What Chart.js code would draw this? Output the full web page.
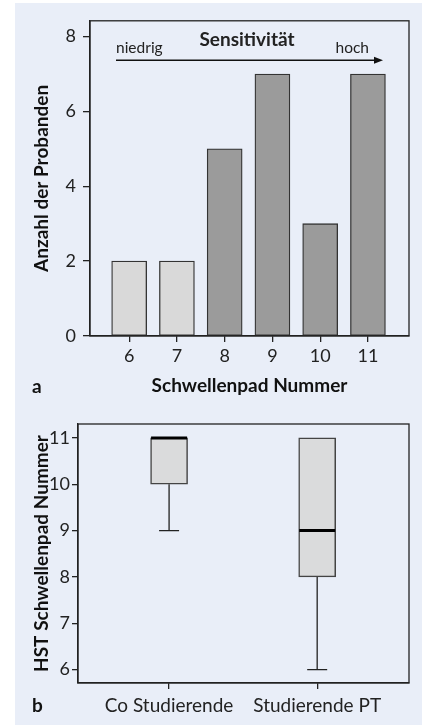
<!DOCTYPE html>
<html lang="de">
<head>
  <meta charset="UTF-8" />
  <title>Schwellenpad Sensitivität</title>
  <script src="https://cdn.jsdelivr.net/npm/chart.js"></script>
  <style>
    body { margin: 0; background: #fff; }
    #panel { position: absolute; left: 15px; top: 3px; width: 407px; height: 722px; background: #e9eef8; }
    canvas { position: absolute; left: 15px; }
    #chartA { top: 3px; }
    #chartB { top: 400px; }
  </style>
</head>
<body>
<div id="panel"></div>
<canvas id="chartA" width="407" height="397"></canvas>
<canvas id="chartB" width="407" height="325"></canvas>

<script>
  // a: Anzahl der Probanden je Schwellenpad
  const padNumbers = [6, 7, 8, 9, 10, 11];
  const probandCounts = [2, 2, 5, 7, 3, 7];
  const countTicks = [0, 2, 4, 6, 8];

  // b: HST Schwellenpad je Gruppe (Boxplot)
  const groups = ['Co Studierende', 'Studierende PT'];
  const groupPos = [1, 2];
  const boxMin = [9, 6];
  const boxQ1 = [10, 8];
  const boxMedian = [11, 9];
  const boxQ3 = [11, 11];
  const boxMax = [11, 11];
  const padTicks = [6, 7, 8, 9, 10, 11];

  const ink = '#222';
  const tickFont = { family: 'Lato', size: 18 };
  const titleFont = { family: 'Lato', size: 19, weight: 'bold' };

  // frame around the plot area
  const frame = {
    id: 'frame',
    afterDraw(chart) {
      const { ctx, chartArea: a } = chart;
      ctx.save();
      ctx.strokeStyle = ink;
      ctx.lineWidth = 1.3;
      ctx.strokeRect(a.left, a.top, a.right - a.left, a.bottom - a.top);
      ctx.restore();
    }
  };

  function panelLabel(text, x, y) {
    return {
      id: 'label' + text,
      afterDraw(chart) {
        const ctx = chart.ctx;
        ctx.save();
        ctx.fillStyle = '#111';
        ctx.font = 'bold 19px Lato';
        ctx.textBaseline = 'alphabetic';
        ctx.fillText(text, x, y);
        ctx.restore();
      }
    };
  }

  // Sensitivität arrow: niedrig -> hoch
  const sensArrow = {
    id: 'sensArrow',
    afterDraw(chart) {
      const { ctx, chartArea: a } = chart;
      const y = a.top + 39.5;
      const x0 = a.left + 26, x1 = a.left + 293;
      ctx.save();
      ctx.strokeStyle = '#111';
      ctx.fillStyle = '#111';
      ctx.lineWidth = 1.5;
      ctx.beginPath();
      ctx.moveTo(x0, y);
      ctx.lineTo(x1 - 6, y);
      ctx.stroke();
      ctx.beginPath();
      ctx.moveTo(x1, y);
      ctx.lineTo(x1 - 9, y - 3.5);
      ctx.lineTo(x1 - 9, y + 3.5);
      ctx.closePath();
      ctx.fill();

      ctx.fillStyle = ink;
      ctx.textBaseline = 'alphabetic';
      ctx.font = 'bold 19px Lato';
      ctx.textAlign = 'center';
      ctx.fillText('Sensitivität', a.left + 157, a.top + 25);
      ctx.font = '15.5px Lato';
      ctx.textAlign = 'left';
      ctx.fillText('niedrig', x0, a.top + 32);
      ctx.textAlign = 'right';
      ctx.fillText('hoch', a.left + 279, a.top + 32);
      ctx.restore();
    }
  };

  // whiskers and medians on top of the floating box bars
  const whiskers = {
    id: 'whiskers',
    afterDatasetsDraw(chart) {
      const { ctx, scales: { x, y } } = chart;
      ctx.save();
      groupPos.forEach((p, i) => {
        const cx = x.getPixelForValue(p);
        const cap = 10;
        ctx.strokeStyle = ink;
        ctx.lineWidth = 1.3;
        if (boxMin[i] < boxQ1[i]) {
          const yq = y.getPixelForValue(boxQ1[i]), ym = y.getPixelForValue(boxMin[i]);
          ctx.beginPath();
          ctx.moveTo(cx, yq); ctx.lineTo(cx, ym);
          ctx.moveTo(cx - cap, ym); ctx.lineTo(cx + cap, ym);
          ctx.stroke();
        }
        if (boxMax[i] > boxQ3[i]) {
          const yq = y.getPixelForValue(boxQ3[i]), ym = y.getPixelForValue(boxMax[i]);
          ctx.beginPath();
          ctx.moveTo(cx, yq); ctx.lineTo(cx, ym);
          ctx.moveTo(cx - cap, ym); ctx.lineTo(cx + cap, ym);
          ctx.stroke();
        }
        const ymed = y.getPixelForValue(boxMedian[i]);
        ctx.strokeStyle = '#000';
        ctx.lineWidth = 3;
        ctx.beginPath();
        ctx.moveTo(cx - 18, ymed); ctx.lineTo(cx + 18, ymed);
        ctx.stroke();
      });
      ctx.restore();
    }
  };

  const tickGrid = (len) => ({ drawOnChartArea: false, drawTicks: true, tickLength: len, color: ink, lineWidth: 1.3 });

  new Chart(document.getElementById('chartA'), {
    type: 'bar',
    data: {
      datasets: [{
        data: padNumbers.map((p, i) => ({ x: p, y: probandCounts[i] })),
        backgroundColor: ctx => ctx.dataIndex < 2 ? '#d9d9d9' : '#9b9b9b',
        borderColor: '#333',
        borderWidth: 1.3,
        borderSkipped: false,
        barThickness: 35
      }]
    },
    options: {
      responsive: false,
      animation: false,
      layout: { padding: { top: 15, right: 13, left: 0, bottom: 0 } },
      plugins: { legend: { display: false }, tooltip: { enabled: false } },
      scales: {
        x: {
          type: 'linear',
          min: 5.18, max: 11.86,
          offset: false,
          afterBuildTicks: s => { s.ticks = padNumbers.map(v => ({ value: v })); },
          afterFit: s => { s.height = 64; },
          grid: { ...tickGrid(6), offset: false },
          border: { color: ink, width: 1.3 },
          ticks: { font: tickFont, color: ink, padding: 3, maxRotation: 0 },
          title: { display: true, text: 'Schwellenpad Nummer', font: titleFont, color: '#111', padding: { top: 0, bottom: 2.6 } }
        },
        y: {
          min: 0, max: 8.42,
          afterBuildTicks: s => { s.ticks = countTicks.map(v => ({ value: v })); },
          afterFit: s => { s.width = 75; },
          grid: tickGrid(7),
          border: { color: ink, width: 1.3 },
          ticks: { font: tickFont, color: ink, padding: 7 },
          title: { display: true, text: 'Anzahl der Probanden', font: titleFont, color: '#111', padding: { top: 15.6, bottom: 0 } }
        }
      }
    },
    plugins: [frame, sensArrow, panelLabel('a', 17, 390)]
  });

  new Chart(document.getElementById('chartB'), {
    type: 'bar',
    data: {
      datasets: [{
        data: groupPos.map((p, i) => ({ x: p, y: [boxQ1[i], boxQ3[i]] })),
        backgroundColor: '#dadbdc',
        borderColor: '#444',
        borderWidth: 1.5,
        borderSkipped: false,
        barThickness: 37
      }]
    },
    options: {
      responsive: false,
      animation: false,
      layout: { padding: { top: 24, right: 13, left: 0, bottom: 0 } },
      plugins: { legend: { display: false }, tooltip: { enabled: false } },
      scales: {
        x: {
          type: 'linear',
          min: 0.385, max: 2.62,
          offset: false,
          afterBuildTicks: s => { s.ticks = groupPos.map(v => ({ value: v })); },
          afterFit: s => { s.height = 42; },
          grid: { ...tickGrid(6), offset: false },
          border: { color: ink, width: 1.3 },
          ticks: {
            font: { family: 'Lato', size: 19 }, color: ink, padding: 5, maxRotation: 0,
            callback: v => groups[groupPos.indexOf(v)]
          }
        },
        y: {
          min: 5.71, max: 11.3,
          afterBuildTicks: s => { s.ticks = padTicks.map(v => ({ value: v })); },
          afterFit: s => { s.width = 63; },
          grid: tickGrid(6),
          border: { color: ink, width: 1.3 },
          ticks: { font: tickFont, color: ink, padding: 2 },
          title: { display: true, text: 'HST Schwellenpad Nummer', font: titleFont, color: '#111', padding: { top: 15.6, bottom: 0 } }
        }
      }
    },
    plugins: [frame, whiskers, panelLabel('b', 17, 312)]
  });
</script>
</body>
</html>
